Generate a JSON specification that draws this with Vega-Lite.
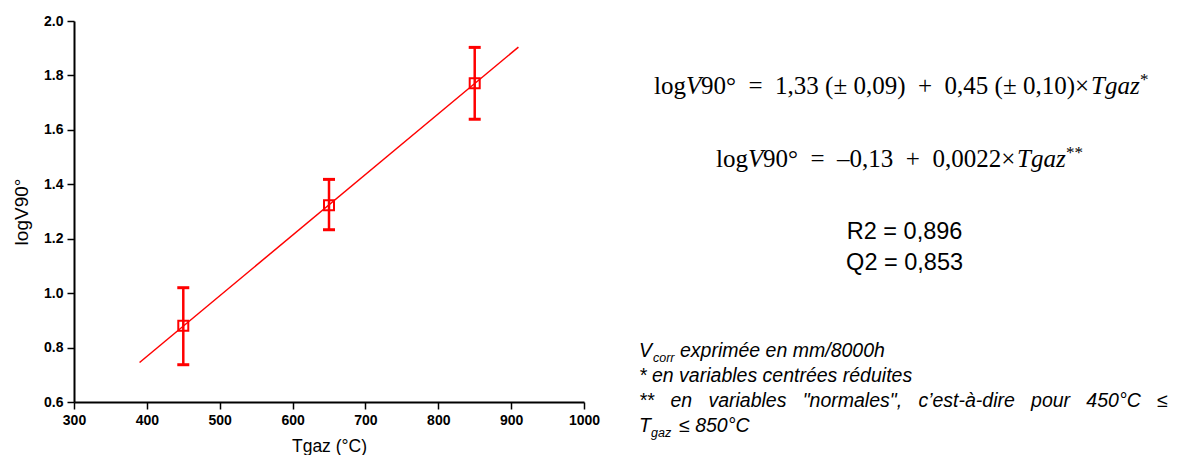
{
  "$schema": "https://vega.github.io/schema/vega-lite/v6.json",
  "width": 510,
  "height": 381,
  "padding": {"left": 12, "top": 14, "right": 4, "bottom": 0},
  "background": "white",
  "config": {
    "view": {"stroke": null},
    "axis": {
      "grid": false,
      "domainColor": "black",
      "domainWidth": 2,
      "tickColor": "black",
      "tickWidth": 1.5,
      "labelFont": "Liberation Sans",
      "labelFontSize": 14,
      "labelFontWeight": "bold",
      "labelColor": "black",
      "titleFont": "Liberation Sans",
      "titleFontWeight": "normal",
      "titleColor": "black",
      "labelOverlap": false,
      "labelFlush": false
    }
  },
  "datasets": {
    "pts": [
      {"T": 450, "v": 0.88, "lo": 0.737, "hi": 1.02},
      {"T": 650, "v": 1.323, "lo": 1.233, "hi": 1.418},
      {"T": 850, "v": 1.771, "lo": 1.639, "hi": 1.903}
    ],
    "fit": [
      {"T": 390, "v": 0.745},
      {"T": 910, "v": 1.904}
    ]
  },
  "layer": [
    {
      "data": {"name": "fit"},
      "mark": {"type": "line", "color": "#ff0000", "strokeWidth": 1.5},
      "encoding": {
        "x": {
          "field": "T", "type": "quantitative",
          "scale": {"domain": [300, 1000], "nice": false, "zero": false},
          "axis": {
            "title": "Tgaz (°C)",
            "titleFontSize": 17.5,
            "titlePadding": 10,
            "values": [300, 350, 400, 450, 500, 550, 600, 650, 700, 750, 800, 850, 900, 950, 1000],
            "format": "d",
            "labelExpr": "datum.value % 100 === 0 ? datum.label : ''",
            "labelFontWeight": "bold",
            "labelFontSize": 14,
            "tickSize": {"condition": {"test": "datum.value % 100 === 0", "value": 7}, "value": 4},
            "labelPadding": 4
          }
        },
        "y": {
          "field": "v", "type": "quantitative",
          "scale": {"domain": [0.6, 2.0], "nice": false, "zero": false},
          "axis": {
            "title": "logV90°",
            "titleFontSize": 19,
            "titlePadding": 12,
            "values": [0.6, 0.7, 0.8, 0.9, 1.0, 1.1, 1.2, 1.3, 1.4, 1.5, 1.6, 1.7, 1.8, 1.9, 2.0],
            "labelExpr": "round(datum.value * 10) % 2 === 0 ? format(datum.value, '.1f') : ''",
            "labelFontWeight": "bold",
            "labelFontSize": 14,
            "tickSize": {"condition": {"test": "round(datum.value * 10) % 2 === 0", "value": 7}, "value": 4},
            "labelPadding": 4
          }
        }
      }
    },
    {
      "data": {"name": "pts"},
      "mark": {"type": "rule", "color": "#ff0000", "strokeWidth": 2.5},
      "encoding": {
        "x": {"field": "T", "type": "quantitative"},
        "y": {"field": "lo", "type": "quantitative"},
        "y2": {"field": "hi"}
      }
    },
    {
      "data": {"name": "pts"},
      "mark": {"type": "tick", "orient": "horizontal", "color": "#ff0000", "size": 12, "thickness": 3, "opacity": 1},
      "encoding": {
        "x": {"field": "T", "type": "quantitative"},
        "y": {"field": "hi", "type": "quantitative"}
      }
    },
    {
      "data": {"name": "pts"},
      "mark": {"type": "tick", "orient": "horizontal", "color": "#ff0000", "size": 12, "thickness": 3, "opacity": 1},
      "encoding": {
        "x": {"field": "T", "type": "quantitative"},
        "y": {"field": "lo", "type": "quantitative"}
      }
    },
    {
      "data": {"name": "pts"},
      "mark": {"type": "point", "shape": "square", "filled": false, "color": "#ff0000", "size": 100, "strokeWidth": 2, "opacity": 1},
      "encoding": {
        "x": {"field": "T", "type": "quantitative"},
        "y": {"field": "v", "type": "quantitative"}
      }
    },
    {
      "data": {"values": [{"t": "log"}]},
      "mark": {"type": "text", "align": "left", "baseline": "alphabetic", "font": "Liberation Serif", "fontSize": 25, "color": "black", "dx": 0},
      "encoding": {"x": {"datum": 1096.1}, "y": {"datum": 1.733}, "text": {"field": "t"}}
    },
    {
      "data": {"values": [{"t": "V"}]},
      "mark": {"type": "text", "align": "left", "baseline": "alphabetic", "font": "Liberation Serif", "fontSize": 25, "fontStyle": "italic", "color": "black", "dx": 32},
      "encoding": {"x": {"datum": 1096.1}, "y": {"datum": 1.733}, "text": {"field": "t"}}
    },
    {
      "data": {"values": [{"t": "90°\u00a0\u00a0=\u00a0\u00a01,33 (±\u00a00,09)\u00a0\u00a0+\u00a0\u00a00,45 (±\u00a00,10)×"}]},
      "mark": {"type": "text", "align": "left", "baseline": "alphabetic", "font": "Liberation Serif", "fontSize": 25, "color": "black", "dx": 47},
      "encoding": {"x": {"datum": 1096.1}, "y": {"datum": 1.733}, "text": {"field": "t"}}
    },
    {
      "data": {"values": [{"t": "Tgaz"}]},
      "mark": {"type": "text", "align": "left", "baseline": "alphabetic", "font": "Liberation Serif", "fontSize": 25, "fontStyle": "italic", "color": "black", "dx": 437},
      "encoding": {"x": {"datum": 1096.1}, "y": {"datum": 1.733}, "text": {"field": "t"}}
    },
    {
      "data": {"values": [{"t": "*"}]},
      "mark": {"type": "text", "align": "left", "baseline": "alphabetic", "font": "Liberation Serif", "fontSize": 17, "color": "black", "dx": 486, "dy": -9},
      "encoding": {"x": {"datum": 1096.1}, "y": {"datum": 1.733}, "text": {"field": "t"}}
    },
    {
      "data": {"values": [{"t": "log"}]},
      "mark": {"type": "text", "align": "left", "baseline": "alphabetic", "font": "Liberation Serif", "fontSize": 25, "color": "black", "dx": 0},
      "encoding": {"x": {"datum": 1181.2}, "y": {"datum": 1.464}, "text": {"field": "t"}}
    },
    {
      "data": {"values": [{"t": "V"}]},
      "mark": {"type": "text", "align": "left", "baseline": "alphabetic", "font": "Liberation Serif", "fontSize": 25, "fontStyle": "italic", "color": "black", "dx": 32},
      "encoding": {"x": {"datum": 1181.2}, "y": {"datum": 1.464}, "text": {"field": "t"}}
    },
    {
      "data": {"values": [{"t": "90°\u00a0\u00a0=\u00a0\u00a0–0,13\u00a0\u00a0+\u00a0\u00a00,0022×"}]},
      "mark": {"type": "text", "align": "left", "baseline": "alphabetic", "font": "Liberation Serif", "fontSize": 25, "color": "black", "dx": 47},
      "encoding": {"x": {"datum": 1181.2}, "y": {"datum": 1.464}, "text": {"field": "t"}}
    },
    {
      "data": {"values": [{"t": "Tgaz"}]},
      "mark": {"type": "text", "align": "left", "baseline": "alphabetic", "font": "Liberation Serif", "fontSize": 25, "fontStyle": "italic", "color": "black", "dx": 301},
      "encoding": {"x": {"datum": 1181.2}, "y": {"datum": 1.464}, "text": {"field": "t"}}
    },
    {
      "data": {"values": [{"t": "**"}]},
      "mark": {"type": "text", "align": "left", "baseline": "alphabetic", "font": "Liberation Serif", "fontSize": 17, "color": "black", "dx": 350, "dy": -9},
      "encoding": {"x": {"datum": 1181.2}, "y": {"datum": 1.464}, "text": {"field": "t"}}
    },
    {
      "data": {"values": [{"t": "R2 = 0,896\nQ2 = 0,853"}]},
      "mark": {"type": "text", "align": "center", "baseline": "alphabetic", "font": "Liberation Sans", "fontSize": 23.5, "color": "black", "lineBreak": "\n", "lineHeight": 31},
      "encoding": {"x": {"datum": 1440}, "y": {"datum": 1.198}, "text": {"field": "t"}}
    },
    {
      "data": {"values": [{"t": "V"}]},
      "mark": {"type": "text", "align": "left", "baseline": "alphabetic", "font": "Liberation Sans", "fontSize": 19.5, "fontStyle": "italic", "color": "black", "dx": 0},
      "encoding": {"x": {"datum": 1075.5}, "y": {"datum": 0.764}, "text": {"field": "t"}}
    },
    {
      "data": {"values": [{"t": "corr"}]},
      "mark": {"type": "text", "align": "left", "baseline": "alphabetic", "font": "Liberation Sans", "fontSize": 12.5, "fontStyle": "italic", "color": "black", "dx": 14, "dy": 5},
      "encoding": {"x": {"datum": 1075.5}, "y": {"datum": 0.764}, "text": {"field": "t"}}
    },
    {
      "data": {"values": [{"t": "exprimée en mm/8000h"}]},
      "mark": {"type": "text", "align": "left", "baseline": "alphabetic", "font": "Liberation Sans", "fontSize": 19.5, "fontStyle": "italic", "color": "black", "dx": 41},
      "encoding": {"x": {"datum": 1075.5}, "y": {"datum": 0.764}, "text": {"field": "t"}}
    },
    {
      "data": {"values": [{"t": "* en variables centrées réduites\n**\u00a0\u00a0 en\u00a0\u00a0 variables\u00a0\u00a0 \"normales\",\u00a0\u00a0 c’est-à-dire\u00a0\u00a0 pour\u00a0\u00a0 450°C\u00a0\u00a0 ≤"}]},
      "mark": {"type": "text", "align": "left", "baseline": "alphabetic", "font": "Liberation Sans", "fontSize": 19.5, "fontStyle": "italic", "color": "black", "lineBreak": "\n", "lineHeight": 25},
      "encoding": {"x": {"datum": 1075.5}, "y": {"datum": 0.672}, "text": {"field": "t"}}
    },
    {
      "data": {"values": [{"t": "T"}]},
      "mark": {"type": "text", "align": "left", "baseline": "alphabetic", "font": "Liberation Sans", "fontSize": 19.5, "fontStyle": "italic", "color": "black", "dx": 0},
      "encoding": {"x": {"datum": 1075.5}, "y": {"datum": 0.4887}, "text": {"field": "t"}}
    },
    {
      "data": {"values": [{"t": "gaz"}]},
      "mark": {"type": "text", "align": "left", "baseline": "alphabetic", "font": "Liberation Sans", "fontSize": 12.5, "fontStyle": "italic", "color": "black", "dx": 12, "dy": 5},
      "encoding": {"x": {"datum": 1075.5}, "y": {"datum": 0.4887}, "text": {"field": "t"}}
    },
    {
      "data": {"values": [{"t": "≤ 850°C"}]},
      "mark": {"type": "text", "align": "left", "baseline": "alphabetic", "font": "Liberation Sans", "fontSize": 19.5, "fontStyle": "italic", "color": "black", "dx": 40},
      "encoding": {"x": {"datum": 1075.5}, "y": {"datum": 0.4887}, "text": {"field": "t"}}
    }
  ]
}
